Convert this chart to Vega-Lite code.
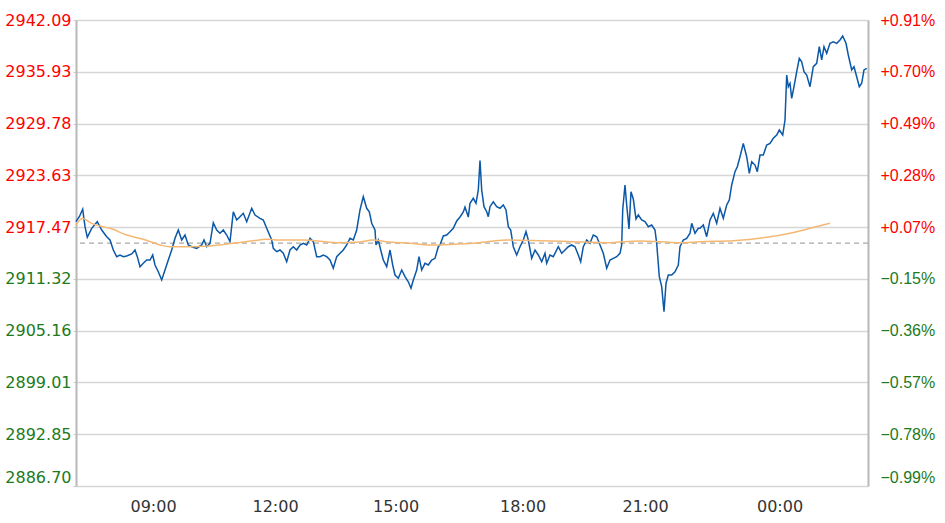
{
  "$schema": "https://vega.github.io/schema/vega-lite/v6.json",
  "width": 792,
  "height": 466,
  "autosize": {"type": "none"},
  "padding": {"left": 76, "top": 20, "right": 77, "bottom": 37},
  "background": "#ffffff",
  "config": {"view": {"stroke": null}},
  "datasets": {
    "price": [
      {"i":0,"p":2918.12},{"i":3.3,"p":2918.71},{"i":6.7,"p":2919.59},{"i":9,"p":2917.52},{"i":11.3,"p":2916.26},{"i":15.7,"p":2917.33},{"i":21.3,"p":2918.12},{"i":25.7,"p":2917.13},{"i":30.7,"p":2916.33},{"i":34,"p":2915.94},{"i":37.3,"p":2914.75},{"i":40.7,"p":2913.96},{"i":44,"p":2914.16},{"i":47.3,"p":2913.96},{"i":50.7,"p":2914.04},{"i":55.7,"p":2914.28},{"i":59,"p":2914.75},{"i":61.3,"p":2913.96},{"i":64,"p":2912.77},{"i":67.3,"p":2913.17},{"i":70.7,"p":2913.56},{"i":74,"p":2913.56},{"i":76.7,"p":2914.16},{"i":79,"p":2912.97},{"i":82.3,"p":2912.17},{"i":85.7,"p":2911.19},{"i":89,"p":2912.37},{"i":92.3,"p":2913.56},{"i":95.7,"p":2914.75},{"i":99,"p":2916.14},{"i":102.3,"p":2917.13},{"i":105.7,"p":2915.94},{"i":109,"p":2916.53},{"i":112.3,"p":2915.35},{"i":115.7,"p":2915.14},{"i":120.7,"p":2914.95},{"i":125.7,"p":2915.35},{"i":128,"p":2915.94},{"i":130.7,"p":2915.14},{"i":134,"p":2915.55},{"i":137.3,"p":2918.0},{"i":140.7,"p":2917.13},{"i":144,"p":2916.74},{"i":147.3,"p":2917.13},{"i":150.7,"p":2916.53},{"i":154,"p":2915.74},{"i":157.3,"p":2919.3},{"i":160.7,"p":2918.32},{"i":164,"p":2918.71},{"i":167.3,"p":2919.11},{"i":170.7,"p":2918.12},{"i":175.7,"p":2919.71},{"i":179,"p":2918.91},{"i":184,"p":2918.52},{"i":187.3,"p":2918.32},{"i":190.7,"p":2917.33},{"i":195.7,"p":2915.94},{"i":197.3,"p":2914.95},{"i":200.7,"p":2914.55},{"i":204,"p":2914.75},{"i":207.3,"p":2914.36},{"i":210.7,"p":2913.36},{"i":214,"p":2914.75},{"i":217.3,"p":2915.14},{"i":220.7,"p":2914.75},{"i":224,"p":2915.35},{"i":227.3,"p":2915.55},{"i":230.7,"p":2915.35},{"i":234,"p":2916.14},{"i":237.3,"p":2915.74},{"i":240.7,"p":2913.96},{"i":244,"p":2913.96},{"i":247.3,"p":2914.16},{"i":250.7,"p":2913.96},{"i":254,"p":2913.56},{"i":257.3,"p":2912.58},{"i":260.7,"p":2913.96},{"i":264,"p":2914.36},{"i":267.3,"p":2914.75},{"i":270.7,"p":2915.35},{"i":274,"p":2916.14},{"i":277.3,"p":2915.94},{"i":280.7,"p":2917.13},{"i":284,"p":2919.51},{"i":287.3,"p":2921.09},{"i":290.7,"p":2919.71},{"i":293.3,"p":2919.3},{"i":295.7,"p":2917.93},{"i":299,"p":2917.13},{"i":300,"p":2915.35},{"i":302.3,"p":2915.94},{"i":304.7,"p":2914.75},{"i":307.3,"p":2913.56},{"i":310.7,"p":2912.77},{"i":314,"p":2914.75},{"i":316.7,"p":2912.97},{"i":319,"p":2911.78},{"i":322.3,"p":2911.39},{"i":325.7,"p":2912.37},{"i":329,"p":2911.58},{"i":332.3,"p":2910.98},{"i":335,"p":2910.2},{"i":337.3,"p":2911.19},{"i":340.7,"p":2912.37},{"i":343,"p":2913.96},{"i":345.7,"p":2912.37},{"i":349,"p":2913.17},{"i":352.3,"p":2912.97},{"i":355.7,"p":2913.56},{"i":359,"p":2913.76},{"i":362.3,"p":2915.14},{"i":364,"p":2915.35},{"i":367.3,"p":2916.42},{"i":370.7,"p":2916.53},{"i":374,"p":2916.93},{"i":377.3,"p":2917.33},{"i":380.7,"p":2918.2},{"i":384,"p":2918.67},{"i":387.3,"p":2919.27},{"i":389,"p":2919.86},{"i":392.3,"p":2918.67},{"i":394,"p":2920.3},{"i":397.3,"p":2920.9},{"i":400,"p":2920.3},{"i":402.3,"p":2921.88},{"i":404,"p":2925.37},{"i":405.7,"p":2921.88},{"i":408,"p":2919.9},{"i":410.7,"p":2919.3},{"i":412.3,"p":2918.71},{"i":414,"p":2919.9},{"i":417.3,"p":2920.49},{"i":420.7,"p":2919.9},{"i":424,"p":2919.71},{"i":427.3,"p":2920.1},{"i":430,"p":2919.51},{"i":432.3,"p":2917.52},{"i":434.7,"p":2917.13},{"i":437.3,"p":2915.14},{"i":440.7,"p":2914.16},{"i":444,"p":2915.14},{"i":447.3,"p":2915.94},{"i":450,"p":2916.93},{"i":452.3,"p":2915.94},{"i":455.7,"p":2913.76},{"i":459,"p":2914.75},{"i":462.3,"p":2914.16},{"i":465.7,"p":2913.36},{"i":469,"p":2914.36},{"i":470.7,"p":2913.17},{"i":474,"p":2914.16},{"i":477.3,"p":2913.96},{"i":482.3,"p":2915.14},{"i":485.7,"p":2914.36},{"i":489,"p":2914.75},{"i":492.3,"p":2915.14},{"i":495.7,"p":2915.35},{"i":499,"p":2915.14},{"i":502.3,"p":2914.16},{"i":504.7,"p":2913.36},{"i":507.3,"p":2915.14},{"i":510.7,"p":2915.94},{"i":514,"p":2915.55},{"i":517.3,"p":2916.53},{"i":520.7,"p":2916.33},{"i":524,"p":2915.35},{"i":527.3,"p":2914.36},{"i":530.7,"p":2912.58},{"i":534,"p":2913.56},{"i":537.3,"p":2913.76},{"i":540.7,"p":2913.96},{"i":544,"p":2914.36},{"i":545.7,"p":2915.35},{"i":546.7,"p":2919.51},{"i":549,"p":2922.48},{"i":550.7,"p":2920.1},{"i":553,"p":2917.25},{"i":555,"p":2921.68},{"i":557.3,"p":2920.81},{"i":560,"p":2918.44},{"i":562.3,"p":2918.91},{"i":565.7,"p":2918.32},{"i":569,"p":2918.12},{"i":572.3,"p":2917.52},{"i":575.7,"p":2917.72},{"i":579,"p":2917.13},{"i":580.7,"p":2915.55},{"i":583.3,"p":2911.58},{"i":585.7,"p":2910.39},{"i":588,"p":2907.42},{"i":590,"p":2910.79},{"i":592.3,"p":2911.78},{"i":595.7,"p":2911.78},{"i":599,"p":2912.17},{"i":602.3,"p":2912.97},{"i":604,"p":2915.14},{"i":607.3,"p":2915.94},{"i":610.7,"p":2916.14},{"i":614,"p":2916.74},{"i":615.7,"p":2917.93},{"i":619,"p":2916.74},{"i":622.3,"p":2917.33},{"i":624,"p":2917.33},{"i":627.3,"p":2917.72},{"i":630.7,"p":2916.33},{"i":634,"p":2918.32},{"i":637.3,"p":2919.11},{"i":640.7,"p":2917.93},{"i":644,"p":2919.71},{"i":647.3,"p":2918.52},{"i":650.7,"p":2920.1},{"i":653.3,"p":2920.69},{"i":655.7,"p":2922.48},{"i":659,"p":2924.06},{"i":661.3,"p":2924.65},{"i":664,"p":2925.84},{"i":667.3,"p":2927.43},{"i":670.7,"p":2925.84},{"i":673.3,"p":2923.87},{"i":675.7,"p":2925.25},{"i":679,"p":2924.85},{"i":681.3,"p":2924.06},{"i":684,"p":2926.04},{"i":687.3,"p":2926.04},{"i":690.7,"p":2927.23},{"i":694,"p":2927.43},{"i":697.3,"p":2928.03},{"i":700.7,"p":2928.42},{"i":703.3,"p":2929.01},{"i":706.7,"p":2928.42},{"i":709,"p":2930.2},{"i":710.7,"p":2935.55},{"i":712.3,"p":2934.16},{"i":714,"p":2934.57},{"i":715.7,"p":2932.78},{"i":718,"p":2934.16},{"i":720.7,"p":2935.94},{"i":723.3,"p":2937.54},{"i":725.7,"p":2937.13},{"i":728,"p":2935.94},{"i":730.7,"p":2935.55},{"i":734,"p":2934.16},{"i":737.3,"p":2936.54},{"i":740.7,"p":2936.94},{"i":743.3,"p":2938.92},{"i":745.7,"p":2937.34},{"i":748,"p":2938.92},{"i":750.7,"p":2938.13},{"i":754,"p":2939.32},{"i":757.3,"p":2939.51},{"i":760.7,"p":2939.32},{"i":764,"p":2939.71},{"i":766.7,"p":2940.19},{"i":770,"p":2939.32},{"i":772.3,"p":2937.93},{"i":775.7,"p":2936.15},{"i":778,"p":2936.54},{"i":780.7,"p":2935.35},{"i":783.3,"p":2934.16},{"i":785.7,"p":2934.57},{"i":788,"p":2936.15},{"i":790.7,"p":2936.35}
    ],
    "avg": [
      {"i":0,"p":2917.72},{"i":6.7,"p":2918.52},{"i":14,"p":2918.0},{"i":24,"p":2917.6},{"i":34,"p":2917.33},{"i":50.7,"p":2916.53},{"i":67.3,"p":2916.02},{"i":84,"p":2915.35},{"i":94,"p":2915.14},{"i":110.7,"p":2915.14},{"i":134,"p":2915.23},{"i":157.3,"p":2915.55},{"i":177.3,"p":2915.86},{"i":190.7,"p":2916.02},{"i":204,"p":2915.94},{"i":227.3,"p":2915.94},{"i":260.7,"p":2915.62},{"i":280.7,"p":2915.67},{"i":297.3,"p":2915.94},{"i":310.7,"p":2915.74},{"i":334,"p":2915.55},{"i":354,"p":2915.35},{"i":377.3,"p":2915.43},{"i":397.3,"p":2915.55},{"i":430.7,"p":2915.94},{"i":464,"p":2915.86},{"i":497.3,"p":2915.74},{"i":530.7,"p":2915.62},{"i":564,"p":2915.82},{"i":604,"p":2915.62},{"i":624,"p":2915.74},{"i":657.3,"p":2915.86},{"i":690.7,"p":2916.26},{"i":714,"p":2916.74},{"i":734,"p":2917.33},{"i":754,"p":2917.93}
    ],
    "base": [{"p": 2915.57}]
  },
  "resolve": {"axis": {"y": "independent"}},
  "layer": [
    {
      "data": {"name": "base"},
      "mark": {"type": "rule", "color": "#a8a8a8", "strokeWidth": 1.3, "strokeDash": [5, 4]},
      "encoding": {
        "y": {"field": "p", "type": "quantitative", "scale": {"domain": [2886.70, 2942.09], "nice": false, "zero": false}, "axis": null}
      }
    },
    {
      "data": {"name": "price"},
      "mark": {"type": "line", "color": "#0b57a8", "strokeWidth": 1.5, "interpolate": "linear"},
      "encoding": {
        "x": {"field": "i", "type": "quantitative", "scale": {"domain": [0, 792], "nice": false, "zero": false},
          "axis": {"values": [77, 199, 319.5, 446.5, 569, 703.5], "labelExpr": "datum.value < 100 ? '09:00' : datum.value < 250 ? '12:00' : datum.value < 380 ? '15:00' : datum.value < 500 ? '18:00' : datum.value < 650 ? '21:00' : '00:00'", "title": null, "grid": false, "domain": false, "ticks": false, "labelFont": "DejaVu Sans", "labelFontSize": 16, "labelColor": "#333333", "labelPadding": 12, "labelFlush": false}},
        "y": {"field": "p", "type": "quantitative", "scale": {"domain": [2886.70, 2942.09], "nice": false, "zero": false},
          "axis": {"orient": "left", "title": null, "values": [2886.70, 2892.85, 2899.01, 2905.16, 2911.32, 2917.47, 2923.63, 2929.78, 2935.93, 2942.09], "format": ".2f", "grid": true, "gridColor": "#d6d6d6", "gridWidth": 1.5, "domain": true, "domainColor": "#b8b8b8", "domainWidth": 2, "ticks": true, "tickSize": 3, "tickColor": "#cccccc", "labelFont": "DejaVu Sans", "labelFontSize": 16, "labelPadding": 2, "labelFlush": false,
            "labelColor": {"condition": {"test": "datum.value > 2915.57", "value": "#ff0000"}, "value": "#1d7a1d"},
            "labelOffset": {"condition": {"test": "datum.value < 2887", "value": -9}, "value": 0}}}
      }
    },
    {
      "data": {"name": "avg"},
      "mark": {"type": "line", "color": "#f5b873", "strokeWidth": 1.5, "interpolate": "monotone"},
      "encoding": {
        "x": {"field": "i", "type": "quantitative", "scale": {"domain": [0, 792], "nice": false, "zero": false},
          "axis": {"values": [77, 199, 319.5, 446.5, 569, 703.5], "labelExpr": "datum.value < 100 ? '09:00' : datum.value < 250 ? '12:00' : datum.value < 380 ? '15:00' : datum.value < 500 ? '18:00' : datum.value < 650 ? '21:00' : '00:00'", "title": null, "grid": false, "domain": false, "ticks": false, "labelFont": "DejaVu Sans", "labelFontSize": 16, "labelColor": "#333333", "labelPadding": 12, "labelFlush": false}},
        "y": {"field": "p", "type": "quantitative", "scale": {"domain": [2886.70, 2942.09], "nice": false, "zero": false},
          "axis": {"orient": "right", "title": null, "values": [2886.70, 2892.85, 2899.01, 2905.16, 2911.32, 2917.47, 2923.63, 2929.78, 2935.93, 2942.09], "labelExpr": "(datum.value > 2915.57 ? '+' : '') + format((datum.value / 2915.57 - 1) * 100, '.2f') + '%'", "grid": false, "domain": true, "domainColor": "#b8b8b8", "domainWidth": 2, "ticks": false, "labelFont": "Liberation Sans", "labelFontSize": 16, "labelPadding": 12, "labelFlush": false,
            "labelColor": {"condition": {"test": "datum.value > 2915.57", "value": "#ff0000"}, "value": "#1d7a1d"},
            "labelOffset": {"condition": {"test": "datum.value < 2887", "value": -9}, "value": 0}}}
      }
    }
  ]
}
